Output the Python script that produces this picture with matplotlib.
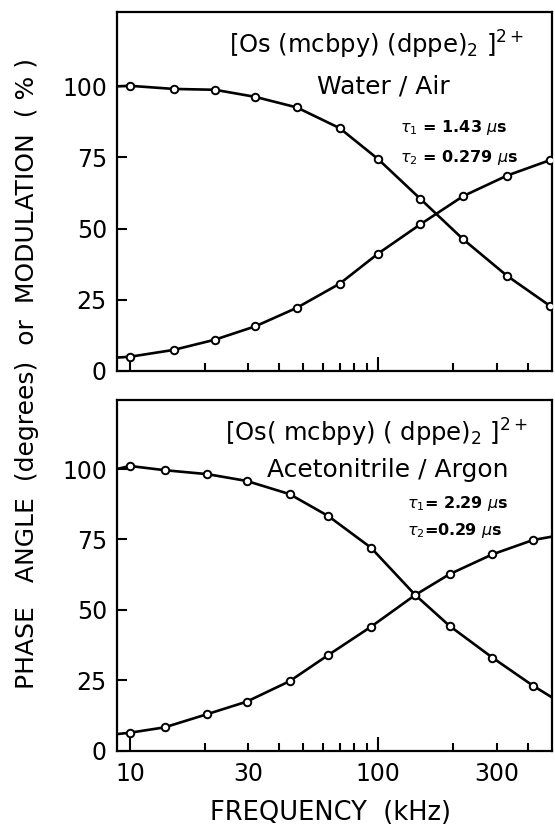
import matplotlib
matplotlib.use("Agg")
import matplotlib.pyplot as plt

# frequencies (kHz) and measured phase / modulation, water / air
freq_water = [10, 15, 22, 32, 47, 70, 100, 148, 220, 330, 490]
mod_water = [100.2, 99.1, 98.8, 96.3, 92.6, 85.3, 74.4, 60.4, 46.2, 33.4, 22.9]
phase_water = [4.9, 7.3, 10.9, 15.6, 22.1, 30.6, 41.2, 51.5, 61.4, 68.6, 74.0]

# acetonitrile / argon
freq_acn = [10, 13.8, 20.5, 29.5, 44, 63, 93.5, 141, 194, 288, 420]
mod_acn = [101.1, 99.6, 98.2, 95.8, 91.1, 83.3, 72.1, 55.3, 44.3, 33.1, 23.1]
phase_acn = [6.4, 8.3, 13.0, 17.4, 24.7, 34.0, 44.0, 55.3, 62.7, 69.7, 74.8]

# where the fitted curves meet the frame edges
f_lo, f_hi = 8.85, 500
mod_water_ends = (100.0, 22.5)
phase_water_ends = (4.6, 74.2)
mod_acn_ends = (100.0, 19.0)
phase_acn_ends = (5.9, 76.0)

yticks = [0, 25, 50, 75, 100]
xlabels = {10: "10", 30: "30", 100: "100", 300: "300"}

plt.rcParams['font.family'] = ['DejaVu Sans']

fig = plt.figure(figsize=(5.55, 8.3), dpi=100)
ax1 = fig.add_axes([0.2103, 0.5534, 0.7838, 0.4316])
ax2 = fig.add_axes([0.2103, 0.0955, 0.7838, 0.4225])


def draw_panel(ax, f, mod, phase, mod_ends, phase_ends, ytop):
    for y, ends in ((mod, mod_ends), (phase, phase_ends)):
        xs = [f_lo] + f + [f_hi]
        ys = [ends[0]] + y + [ends[1]]
        ax.plot(xs, ys, color='black', lw=1.9, solid_joinstyle='round', zorder=2)
        ax.plot(f, y, 'o', ms=5.4, mfc='white', mec='black', mew=1.4, zorder=3)
    ax.set_xscale('log')
    ax.set_xlim(f_lo, f_hi)
    ax.set_ylim(0, ytop)
    ax.set_yticks(yticks)
    ax.set_yticklabels([str(v) for v in yticks], fontsize=17)
    ax.set_xticks([10, 100])
    minor = [20, 30, 40, 50, 60, 70, 80, 90, 200, 300, 400]
    ax.set_xticks(minor, minor=True)
    ax.tick_params(axis='x', which='major', direction='in', length=10, width=1.5)
    ax.tick_params(axis='x', which='minor', direction='in', length=6, width=1.5)
    ax.tick_params(axis='y', direction='in', length=7, width=1.5, pad=7)
    for s in ax.spines.values():
        s.set_linewidth(1.6)


draw_panel(ax1, freq_water, mod_water, phase_water, mod_water_ends, phase_water_ends, 126)
draw_panel(ax2, freq_acn, mod_acn, phase_acn, mod_acn_ends, phase_acn_ends, 124.5)

ax1.set_xticklabels(['', ''])
ax1.set_xticklabels([''] * 11, minor=True)
ax2.set_xticklabels([xlabels[10], xlabels[100]], fontsize=17)
ax2.set_xticklabels(['', xlabels[30], '', '', '', '', '', '', '', xlabels[300], ''],
                    minor=True, fontsize=17)
ax2.tick_params(axis='x', which='both', pad=8)

# labels inside the panels
ax1.text(0.597, 0.909, r'[Os (mcbpy) (dppe)$_2$ ]$^{2+}$', transform=ax1.transAxes,
         ha='center', va='center', fontsize=17.5)
ax1.text(0.612, 0.792, 'Water / Air', transform=ax1.transAxes,
         ha='center', va='center', fontsize=18)
ax1.text(0.651, 0.678, r'$\tau_1$ = 1.43 $\mu$s', transform=ax1.transAxes,
         ha='left', va='center', fontsize=11.5, fontweight='bold')
ax1.text(0.651, 0.594, r'$\tau_2$ = 0.279 $\mu$s', transform=ax1.transAxes,
         ha='left', va='center', fontsize=11.5, fontweight='bold')

ax2.text(0.597, 0.906, r'[Os( mcbpy) ( dppe)$_2$ ]$^{2+}$', transform=ax2.transAxes,
         ha='center', va='center', fontsize=17.5)
ax2.text(0.6225, 0.80, 'Acetonitrile / Argon', transform=ax2.transAxes,
         ha='center', va='center', fontsize=18)
ax2.text(0.667, 0.706, r'$\tau_1$= 2.29 $\mu$s', transform=ax2.transAxes,
         ha='left', va='center', fontsize=11.5, fontweight='bold')
ax2.text(0.667, 0.627, r'$\tau_2$=0.29 $\mu$s', transform=ax2.transAxes,
         ha='left', va='center', fontsize=11.5, fontweight='bold')

fig.text(0.049, 0.550, 'PHASE   ANGLE  (degrees)  or  MODULATION  ( % )',
         rotation=90, ha='center', va='center', fontsize=18)
fig.text(0.595, 0.005, 'FREQUENCY  (kHz)', ha='center', va='bottom', fontsize=18.5)

fig.savefig('out.png', dpi=100)
